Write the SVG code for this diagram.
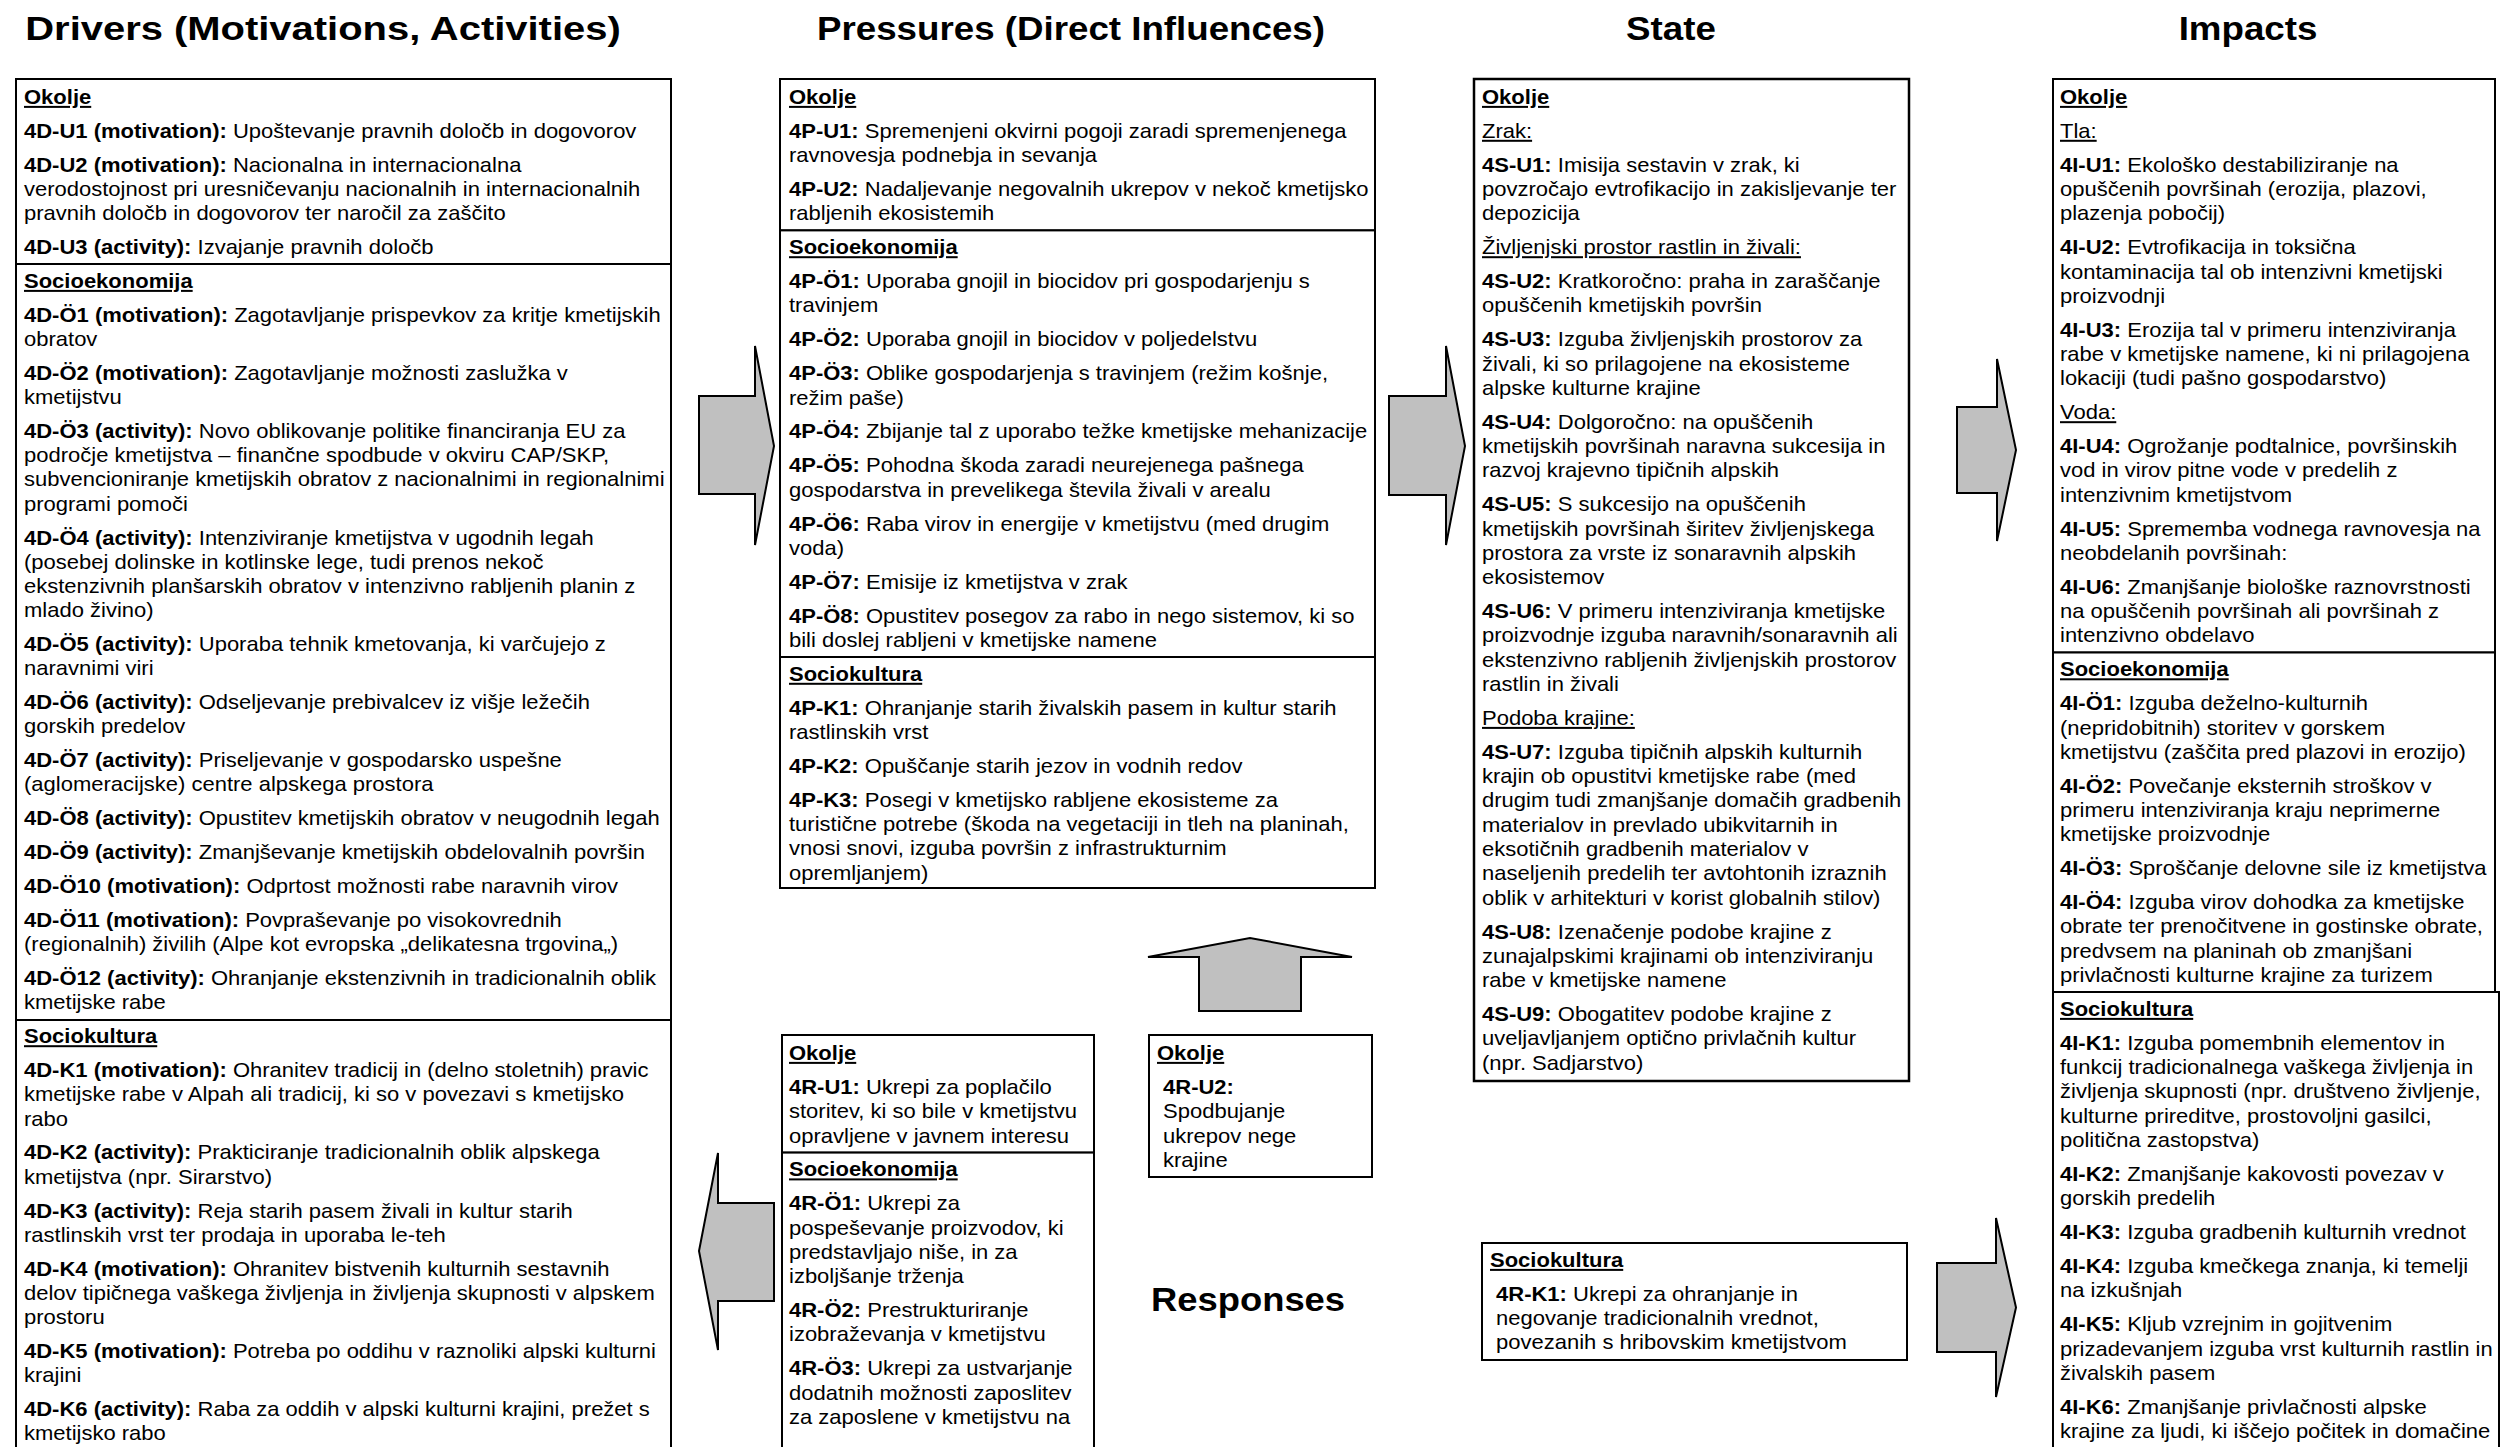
<svg xmlns="http://www.w3.org/2000/svg" width="2501" height="1447" viewBox="0 0 2501 1447">
<style>
text{font-family:"Liberation Sans",Arial,Helvetica,sans-serif;font-size:20px;fill:#000}
.t{font-size:34px;font-weight:bold}
.b{font-weight:bold}
.h{font-weight:bold;text-decoration:underline}
.u{text-decoration:underline}
.box{fill:#fff;stroke:#000;stroke-width:2}
.arr{fill:#c0c0c0;stroke:#000;stroke-width:2;stroke-linejoin:miter}
</style>
<rect width="2501" height="1447" fill="#fff"/>

<!-- column headings -->
<g id="titles">
<text class="t" text-anchor="middle" transform="translate(323,39.5) scale(1.175,1)">Drivers (Motivations, Activities)</text>
<text class="t" text-anchor="middle" transform="translate(1071,39.5) scale(1.08,1)">Pressures (Direct Influences)</text>
<text class="t" text-anchor="middle" transform="translate(1671,39.5) scale(1.08,1)">State</text>
<text class="t" text-anchor="middle" transform="translate(2248,39.5) scale(1.08,1)">Impacts</text>
<text class="t" transform="translate(1151,1311) scale(1.07,1)">Responses</text>
</g>

<!-- block arrows between the columns -->
<g id="connectors">
<polygon class="arr" points="699,396 755,396 755,346 774,446 755,545 755,494 699,494"/>
<polygon class="arr" points="1389,396 1446,396 1446,346 1465,446 1446,545 1446,495 1389,495"/>
<polygon class="arr" points="1957,407 1997,407 1997,359 2016,450 1997,541 1997,493 1957,493"/>
<polygon class="arr" points="1937,1263 1996,1263 1996,1218 2016,1307.5 1996,1397 1996,1352 1937,1352"/>
<polygon class="arr" points="774,1203 718,1203 718,1153 699,1251 718,1350 718,1301 774,1301"/>
<polygon class="arr" points="1199,1011 1199,957 1148,957 1250,938 1352,957 1301,957 1301,1011"/>
</g>

<!-- Drivers -->
<g id="drivers-okolje">
<rect class="box" x="16" y="79" width="655" height="185"/>
<g transform="translate(24,0) scale(1.1,1)">
<text class="h" y="104">Okolje</text>
<text y="137.9"><tspan class="b">4D-U1 (motivation):</tspan> Upoštevanje pravnih določb in dogovorov</text>
<text><tspan x="0" y="171.8"><tspan class="b">4D-U2 (motivation):</tspan> Nacionalna in internacionalna</tspan><tspan x="0" y="196">verodostojnost pri uresničevanju nacionalnih in internacionalnih</tspan><tspan x="0" y="220.2">pravnih določb in dogovorov ter naročil za zaščito</tspan></text>
<text y="254.1"><tspan class="b">4D-U3 (activity):</tspan> Izvajanje pravnih določb</text>
</g>
</g>

<g id="drivers-socioekonomija">
<rect class="box" x="16" y="264" width="655" height="756"/>
<g transform="translate(24,0) scale(1.1,1)">
<text class="h" y="288">Socioekonomija</text>
<text><tspan x="0" y="321.9"><tspan class="b">4D-Ö1 (motivation):</tspan> Zagotavljanje prispevkov za kritje kmetijskih</tspan><tspan x="0" y="346.1">obratov</tspan></text>
<text><tspan x="0" y="380"><tspan class="b">4D-Ö2 (motivation):</tspan> Zagotavljanje možnosti zaslužka v</tspan><tspan x="0" y="404.2">kmetijstvu</tspan></text>
<text><tspan x="0" y="438.1"><tspan class="b">4D-Ö3 (activity):</tspan> Novo oblikovanje politike financiranja EU za</tspan><tspan x="0" y="462.3">področje kmetijstva – finančne spodbude v okviru CAP/SKP,</tspan><tspan x="0" y="486.5">subvencioniranje kmetijskih obratov z nacionalnimi in regionalnimi</tspan><tspan x="0" y="510.7">programi pomoči</tspan></text>
<text><tspan x="0" y="544.6"><tspan class="b">4D-Ö4 (activity):</tspan> Intenziviranje kmetijstva v ugodnih legah</tspan><tspan x="0" y="568.8">(posebej dolinske in kotlinske lege, tudi prenos nekoč</tspan><tspan x="0" y="593">ekstenzivnih planšarskih obratov v intenzivno rabljenih planin z</tspan><tspan x="0" y="617.2">mlado živino)</tspan></text>
<text><tspan x="0" y="651.1"><tspan class="b">4D-Ö5 (activity):</tspan> Uporaba tehnik kmetovanja, ki varčujejo z</tspan><tspan x="0" y="675.3">naravnimi viri</tspan></text>
<text><tspan x="0" y="709.2"><tspan class="b">4D-Ö6 (activity):</tspan> Odseljevanje prebivalcev iz višje ležečih</tspan><tspan x="0" y="733.4">gorskih predelov</tspan></text>
<text><tspan x="0" y="767.3"><tspan class="b">4D-Ö7 (activity):</tspan> Priseljevanje v gospodarsko uspešne</tspan><tspan x="0" y="791.5">(aglomeracijske) centre alpskega prostora</tspan></text>
<text y="825.4"><tspan class="b">4D-Ö8 (activity):</tspan> Opustitev kmetijskih obratov v neugodnih legah</text>
<text y="859.3"><tspan class="b">4D-Ö9 (activity):</tspan> Zmanjševanje kmetijskih obdelovalnih površin</text>
<text y="893.2"><tspan class="b">4D-Ö10 (motivation):</tspan> Odprtost možnosti rabe naravnih virov</text>
<text><tspan x="0" y="927.1"><tspan class="b">4D-Ö11 (motivation):</tspan> Povpraševanje po visokovrednih</tspan><tspan x="0" y="951.3">(regionalnih) živilih (Alpe kot evropska „delikatesna trgovina„)</tspan></text>
<text><tspan x="0" y="985.2"><tspan class="b">4D-Ö12 (activity):</tspan> Ohranjanje ekstenzivnih in tradicionalnih oblik</tspan><tspan x="0" y="1009.4">kmetijske rabe</tspan></text>
</g>
</g>

<g id="drivers-sociokultura">
<rect class="box" x="16" y="1020" width="655" height="440"/>
<g transform="translate(24,0) scale(1.1,1)">
<text class="h" y="1043.3">Sociokultura</text>
<text><tspan x="0" y="1077.2"><tspan class="b">4D-K1 (motivation):</tspan> Ohranitev tradicij in (delno stoletnih) pravic</tspan><tspan x="0" y="1101.4">kmetijske rabe v Alpah ali tradicij, ki so v povezavi s kmetijsko</tspan><tspan x="0" y="1125.6">rabo</tspan></text>
<text><tspan x="0" y="1159.5"><tspan class="b">4D-K2 (activity):</tspan> Prakticiranje tradicionalnih oblik alpskega</tspan><tspan x="0" y="1183.7">kmetijstva (npr. Sirarstvo)</tspan></text>
<text><tspan x="0" y="1217.6"><tspan class="b">4D-K3 (activity):</tspan> Reja starih pasem živali in kultur starih</tspan><tspan x="0" y="1241.8">rastlinskih vrst ter prodaja in uporaba le-teh</tspan></text>
<text><tspan x="0" y="1275.7"><tspan class="b">4D-K4 (motivation):</tspan> Ohranitev bistvenih kulturnih sestavnih</tspan><tspan x="0" y="1299.9">delov tipičnega vaškega življenja in življenja skupnosti v alpskem</tspan><tspan x="0" y="1324.1">prostoru</tspan></text>
<text><tspan x="0" y="1358"><tspan class="b">4D-K5 (motivation):</tspan> Potreba po oddihu v raznoliki alpski kulturni</tspan><tspan x="0" y="1382.2">krajini</tspan></text>
<text><tspan x="0" y="1416.1"><tspan class="b">4D-K6 (activity):</tspan> Raba za oddih v alpski kulturni krajini, prežet s</tspan><tspan x="0" y="1440.3">kmetijsko rabo</tspan></text>
</g>
</g>

<!-- Pressures -->
<g id="pressures-okolje">
<rect class="box" x="780" y="79" width="595" height="151.4"/>
<g transform="translate(789,0) scale(1.1,1)">
<text class="h" y="104">Okolje</text>
<text><tspan x="0" y="137.9"><tspan class="b">4P-U1:</tspan> Spremenjeni okvirni pogoji zaradi spremenjenega</tspan><tspan x="0" y="162.2">ravnovesja podnebja in sevanja</tspan></text>
<text><tspan x="0" y="196.1"><tspan class="b">4P-U2:</tspan> Nadaljevanje negovalnih ukrepov v nekoč kmetijsko</tspan><tspan x="0" y="220.4">rabljenih ekosistemih</tspan></text>
</g>
</g>

<g id="pressures-socioekonomija">
<rect class="box" x="780" y="230.4" width="595" height="426.6"/>
<g transform="translate(789,0) scale(1.1,1)">
<text class="h" y="254.3">Socioekonomija</text>
<text><tspan x="0" y="288.2"><tspan class="b">4P-Ö1:</tspan> Uporaba gnojil in biocidov pri gospodarjenju s</tspan><tspan x="0" y="312.5">travinjem</tspan></text>
<text y="346.4"><tspan class="b">4P-Ö2:</tspan> Uporaba gnojil in biocidov v poljedelstvu</text>
<text><tspan x="0" y="380.3"><tspan class="b">4P-Ö3:</tspan> Oblike gospodarjenja s travinjem (režim košnje,</tspan><tspan x="0" y="404.6">režim paše)</tspan></text>
<text y="438.5"><tspan class="b">4P-Ö4:</tspan> Zbijanje tal z uporabo težke kmetijske mehanizacije</text>
<text><tspan x="0" y="472.4"><tspan class="b">4P-Ö5:</tspan> Pohodna škoda zaradi neurejenega pašnega</tspan><tspan x="0" y="496.7">gospodarstva in prevelikega števila živali v arealu</tspan></text>
<text><tspan x="0" y="530.6"><tspan class="b">4P-Ö6:</tspan> Raba virov in energije v kmetijstvu (med drugim</tspan><tspan x="0" y="554.9">voda)</tspan></text>
<text y="588.8"><tspan class="b">4P-Ö7:</tspan> Emisije iz kmetijstva v zrak</text>
<text><tspan x="0" y="622.7"><tspan class="b">4P-Ö8:</tspan> Opustitev posegov za rabo in nego sistemov, ki so</tspan><tspan x="0" y="647">bili doslej rabljeni v kmetijske namene</tspan></text>
</g>
</g>

<g id="pressures-sociokultura">
<rect class="box" x="780" y="657" width="595" height="231"/>
<g transform="translate(789,0) scale(1.1,1)">
<text class="h" y="680.9">Sociokultura</text>
<text><tspan x="0" y="714.8"><tspan class="b">4P-K1:</tspan> Ohranjanje starih živalskih pasem in kultur starih</tspan><tspan x="0" y="739.1">rastlinskih vrst</tspan></text>
<text y="773"><tspan class="b">4P-K2:</tspan> Opuščanje starih jezov in vodnih redov</text>
<text><tspan x="0" y="806.9"><tspan class="b">4P-K3:</tspan> Posegi v kmetijsko rabljene ekosisteme za</tspan><tspan x="0" y="831.2">turistične potrebe (škoda na vegetaciji in tleh na planinah,</tspan><tspan x="0" y="855.5">vnosi snovi, izguba površin z infrastrukturnim</tspan><tspan x="0" y="879.8">opremljanjem)</tspan></text>
</g>
</g>

<!-- State -->
<g id="state-okolje">
<rect class="box" x="1474" y="79" width="435" height="1002" style="stroke-width:2.5"/>
<g transform="translate(1482,0) scale(1.1,1)">
<text class="h" y="104">Okolje</text>
<text class="u" y="137.9">Zrak:</text>
<text><tspan x="0" y="171.8"><tspan class="b">4S-U1:</tspan> Imisija sestavin v zrak, ki</tspan><tspan x="0" y="196.1">povzročajo evtrofikacijo in zakisljevanje ter</tspan><tspan x="0" y="220.4">depozicija</tspan></text>
<text class="u" y="254.3">Življenjski prostor rastlin in živali:</text>
<text><tspan x="0" y="288.2"><tspan class="b">4S-U2:</tspan> Kratkoročno: praha in zaraščanje</tspan><tspan x="0" y="312.5">opuščenih kmetijskih površin</tspan></text>
<text><tspan x="0" y="346.4"><tspan class="b">4S-U3:</tspan> Izguba življenjskih prostorov za</tspan><tspan x="0" y="370.7">živali, ki so prilagojene na ekosisteme</tspan><tspan x="0" y="395">alpske kulturne krajine</tspan></text>
<text><tspan x="0" y="428.9"><tspan class="b">4S-U4:</tspan> Dolgoročno: na opuščenih</tspan><tspan x="0" y="453.2">kmetijskih površinah naravna sukcesija in</tspan><tspan x="0" y="477.5">razvoj krajevno tipičnih alpskih</tspan></text>
<text><tspan x="0" y="511.4"><tspan class="b">4S-U5:</tspan> S sukcesijo na opuščenih</tspan><tspan x="0" y="535.7">kmetijskih površinah širitev življenjskega</tspan><tspan x="0" y="560">prostora za vrste iz sonaravnih alpskih</tspan><tspan x="0" y="584.3">ekosistemov</tspan></text>
<text><tspan x="0" y="618.2"><tspan class="b">4S-U6:</tspan> V primeru intenziviranja kmetijske</tspan><tspan x="0" y="642.5">proizvodnje izguba naravnih/sonaravnih ali</tspan><tspan x="0" y="666.8">ekstenzivno rabljenih življenjskih prostorov</tspan><tspan x="0" y="691.1">rastlin in živali</tspan></text>
<text class="u" y="725">Podoba krajine:</text>
<text><tspan x="0" y="758.9"><tspan class="b">4S-U7:</tspan> Izguba tipičnih alpskih kulturnih</tspan><tspan x="0" y="783.2">krajin ob opustitvi kmetijske rabe (med</tspan><tspan x="0" y="807.5">drugim tudi zmanjšanje domačih gradbenih</tspan><tspan x="0" y="831.8">materialov in prevlado ubikvitarnih in</tspan><tspan x="0" y="856.1">eksotičnih gradbenih materialov v</tspan><tspan x="0" y="880.4">naseljenih predelih ter avtohtonih izraznih</tspan><tspan x="0" y="904.7">oblik v arhitekturi v korist globalnih stilov)</tspan></text>
<text><tspan x="0" y="938.6"><tspan class="b">4S-U8:</tspan> Izenačenje podobe krajine z</tspan><tspan x="0" y="962.9">zunajalpskimi krajinami ob intenziviranju</tspan><tspan x="0" y="987.2">rabe v kmetijske namene</tspan></text>
<text><tspan x="0" y="1021.1"><tspan class="b">4S-U9:</tspan> Obogatitev podobe krajine z</tspan><tspan x="0" y="1045.4">uveljavljanjem optično privlačnih kultur</tspan><tspan x="0" y="1069.7">(npr. Sadjarstvo)</tspan></text>
</g>
</g>

<!-- Impacts -->
<g id="impacts-okolje">
<rect class="box" x="2053" y="79" width="442" height="573.5"/>
<g transform="translate(2060,0) scale(1.1,1)">
<text class="h" y="104">Okolje</text>
<text class="u" y="137.9">Tla:</text>
<text><tspan x="0" y="171.8"><tspan class="b">4I-U1:</tspan> Ekološko destabiliziranje na</tspan><tspan x="0" y="196.1">opuščenih površinah (erozija, plazovi,</tspan><tspan x="0" y="220.4">plazenja pobočij)</tspan></text>
<text><tspan x="0" y="254.3"><tspan class="b">4I-U2:</tspan> Evtrofikacija in toksična</tspan><tspan x="0" y="278.6">kontaminacija tal ob intenzivni kmetijski</tspan><tspan x="0" y="302.9">proizvodnji</tspan></text>
<text><tspan x="0" y="336.8"><tspan class="b">4I-U3:</tspan> Erozija tal v primeru intenziviranja</tspan><tspan x="0" y="361.1">rabe v kmetijske namene, ki ni prilagojena</tspan><tspan x="0" y="385.4">lokaciji (tudi pašno gospodarstvo)</tspan></text>
<text class="u" y="419.3">Voda:</text>
<text><tspan x="0" y="453.2"><tspan class="b">4I-U4:</tspan> Ogrožanje podtalnice, površinskih</tspan><tspan x="0" y="477.5">vod in virov pitne vode v predelih z</tspan><tspan x="0" y="501.8">intenzivnim kmetijstvom</tspan></text>
<text><tspan x="0" y="535.7"><tspan class="b">4I-U5:</tspan> Sprememba vodnega ravnovesja na</tspan><tspan x="0" y="560">neobdelanih površinah:</tspan></text>
<text><tspan x="0" y="593.9"><tspan class="b">4I-U6:</tspan> Zmanjšanje biološke raznovrstnosti</tspan><tspan x="0" y="618.2">na opuščenih površinah ali površinah z</tspan><tspan x="0" y="642.5">intenzivno obdelavo</tspan></text>
</g>
</g>

<g id="impacts-socioekonomija">
<rect class="box" x="2053" y="652.5" width="442" height="339.5"/>
<g transform="translate(2060,0) scale(1.1,1)">
<text class="h" y="676.4">Socioekonomija</text>
<text><tspan x="0" y="710.3"><tspan class="b">4I-Ö1:</tspan> Izguba deželno-kulturnih</tspan><tspan x="0" y="734.6">(nepridobitnih) storitev v gorskem</tspan><tspan x="0" y="758.9">kmetijstvu (zaščita pred plazovi in erozijo)</tspan></text>
<text><tspan x="0" y="792.8"><tspan class="b">4I-Ö2:</tspan> Povečanje eksternih stroškov v</tspan><tspan x="0" y="817.1">primeru intenziviranja kraju neprimerne</tspan><tspan x="0" y="841.4">kmetijske proizvodnje</tspan></text>
<text y="875.3"><tspan class="b">4I-Ö3:</tspan> Sproščanje delovne sile iz kmetijstva</text>
<text><tspan x="0" y="909.2"><tspan class="b">4I-Ö4:</tspan> Izguba virov dohodka za kmetijske</tspan><tspan x="0" y="933.5">obrate ter prenočitvene in gostinske obrate,</tspan><tspan x="0" y="957.8">predvsem na planinah ob zmanjšani</tspan><tspan x="0" y="982.1">privlačnosti kulturne krajine za turizem</tspan></text>
</g>
</g>

<g id="impacts-sociokultura">
<rect class="box" x="2053" y="992" width="446" height="470"/>
<g transform="translate(2060,0) scale(1.1,1)">
<text class="h" y="1016">Sociokultura</text>
<text><tspan x="0" y="1049.9"><tspan class="b">4I-K1:</tspan> Izguba pomembnih elementov in</tspan><tspan x="0" y="1074.2">funkcij tradicionalnega vaškega življenja in</tspan><tspan x="0" y="1098.5">življenja skupnosti (npr. društveno življenje,</tspan><tspan x="0" y="1122.8">kulturne prireditve, prostovoljni gasilci,</tspan><tspan x="0" y="1147.1">politična zastopstva)</tspan></text>
<text><tspan x="0" y="1181"><tspan class="b">4I-K2:</tspan> Zmanjšanje kakovosti povezav v</tspan><tspan x="0" y="1205.3">gorskih predelih</tspan></text>
<text y="1239.2"><tspan class="b">4I-K3:</tspan> Izguba gradbenih kulturnih vrednot</text>
<text><tspan x="0" y="1273.1"><tspan class="b">4I-K4:</tspan> Izguba kmečkega znanja, ki temelji</tspan><tspan x="0" y="1297.4">na izkušnjah</tspan></text>
<text><tspan x="0" y="1331.3"><tspan class="b">4I-K5:</tspan> Kljub vzrejnim in gojitvenim</tspan><tspan x="0" y="1355.6">prizadevanjem izguba vrst kulturnih rastlin in</tspan><tspan x="0" y="1379.9">živalskih pasem</tspan></text>
<text><tspan x="0" y="1413.8"><tspan class="b">4I-K6:</tspan> Zmanjšanje privlačnosti alpske</tspan><tspan x="0" y="1438.1">krajine za ljudi, ki iščejo počitek in domačine</tspan></text>
</g>
</g>

<!-- Responses -->
<g id="responses-okolje-1">
<rect class="box" x="782" y="1035" width="312" height="117.6"/>
<g transform="translate(789,0) scale(1.1,1)">
<text class="h" y="1060">Okolje</text>
<text><tspan x="0" y="1094"><tspan class="b">4R-U1:</tspan> Ukrepi za poplačilo</tspan><tspan x="0" y="1118.3">storitev, ki so bile v kmetijstvu</tspan><tspan x="0" y="1142.6">opravljene v javnem interesu</tspan></text>
</g>
</g>

<g id="responses-socioekonomija">
<rect class="box" x="782" y="1152.6" width="312" height="310"/>
<g transform="translate(789,0) scale(1.1,1)">
<text class="h" y="1176.5">Socioekonomija</text>
<text><tspan x="0" y="1210.4"><tspan class="b">4R-Ö1:</tspan> Ukrepi za</tspan><tspan x="0" y="1234.7">pospeševanje proizvodov, ki</tspan><tspan x="0" y="1259">predstavljajo niše, in za</tspan><tspan x="0" y="1283.3">izboljšanje trženja</tspan></text>
<text><tspan x="0" y="1317.2"><tspan class="b">4R-Ö2:</tspan> Prestrukturiranje</tspan><tspan x="0" y="1341.5">izobraževanja v kmetijstvu</tspan></text>
<text><tspan x="0" y="1375.4"><tspan class="b">4R-Ö3:</tspan> Ukrepi za ustvarjanje</tspan><tspan x="0" y="1399.7">dodatnih možnosti zaposlitev</tspan><tspan x="0" y="1424">za zaposlene v kmetijstvu na</tspan></text>
</g>
</g>

<g id="responses-okolje-2">
<rect class="box" x="1149" y="1035" width="223" height="142"/>
<g transform="translate(1157,0) scale(1.1,1)">
<text class="h" y="1060">Okolje</text>
<text><tspan x="5.5" y="1094" class="b">4R-U2:</tspan><tspan x="5.5" y="1118.3">Spodbujanje</tspan><tspan x="5.5" y="1142.6">ukrepov nege</tspan><tspan x="5.5" y="1166.9">krajine</tspan></text>
</g>
</g>

<g id="responses-sociokultura">
<rect class="box" x="1482" y="1243" width="425" height="117"/>
<g transform="translate(1490,0) scale(1.1,1)">
<text class="h" y="1267">Sociokultura</text>
<text><tspan x="5.5" y="1300.9"><tspan class="b">4R-K1:</tspan> Ukrepi za ohranjanje in</tspan><tspan x="5.5" y="1325.2">negovanje tradicionalnih vrednot,</tspan><tspan x="5.5" y="1349.5">povezanih s hribovskim kmetijstvom</tspan></text>
</g>
</g>
</svg>
